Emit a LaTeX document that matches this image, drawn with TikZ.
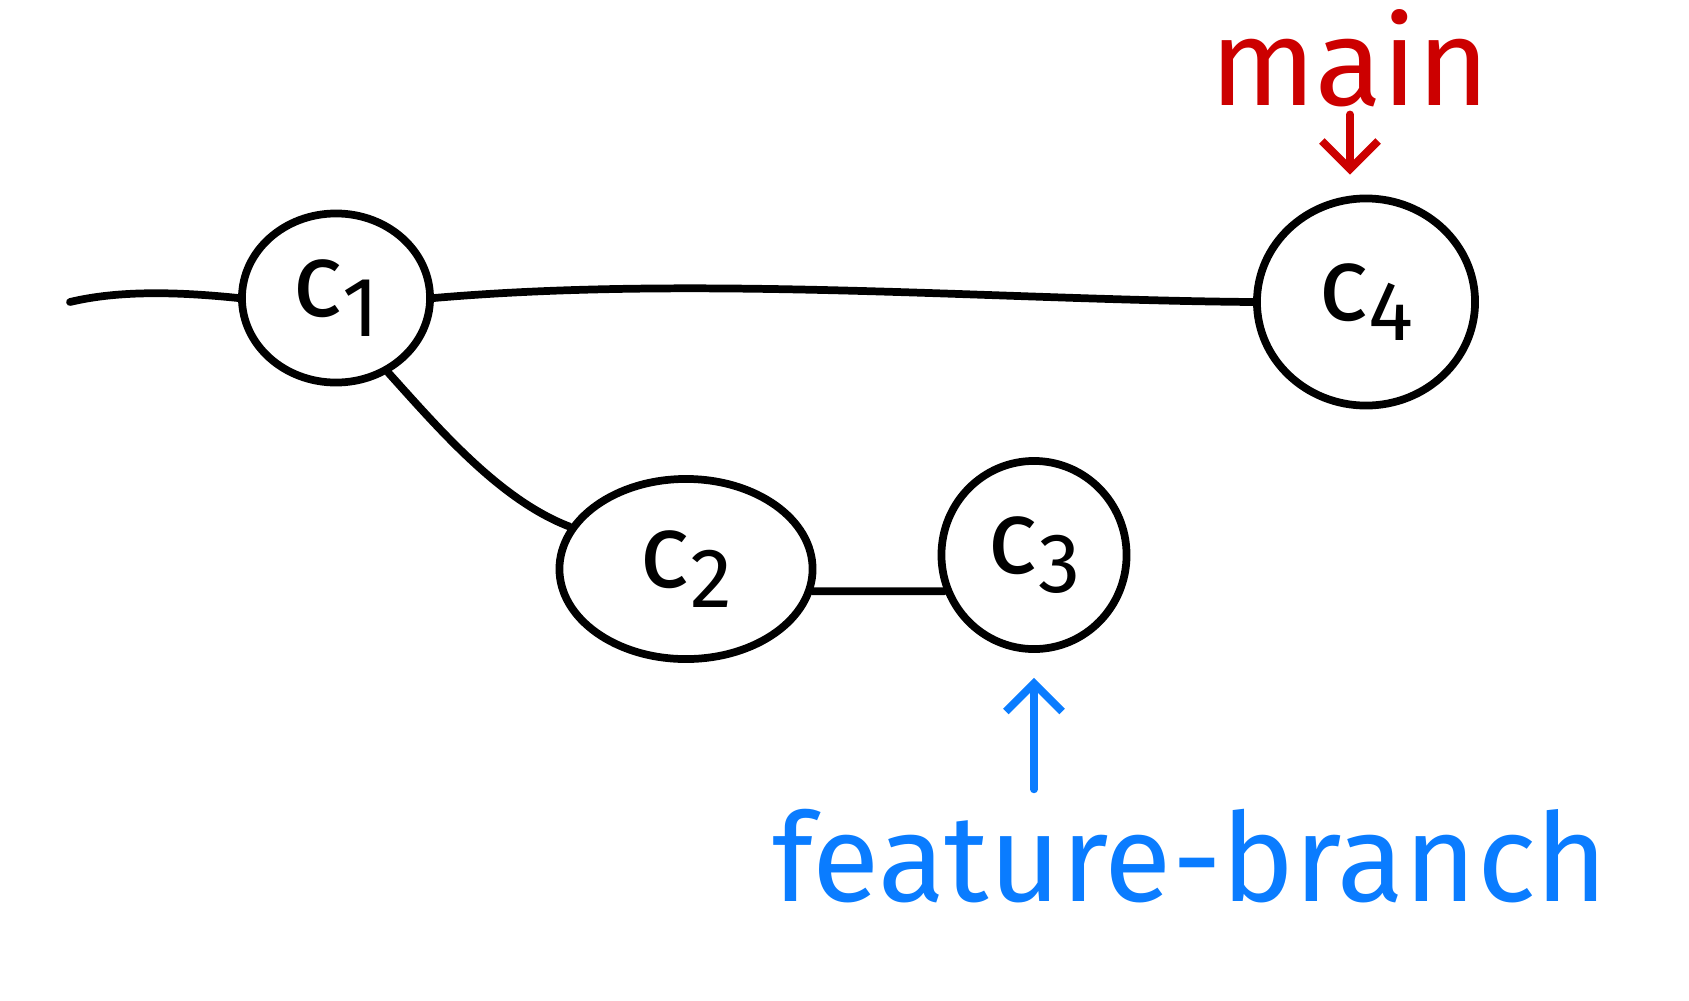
\documentclass[tikz,border=0pt]{standalone}
\usepackage{fontspec}
\setmainfont{Fira Sans}
\usetikzlibrary{shapes.geometric,arrows.meta}
\definecolor{sketchred}{HTML}{CC0000}
\definecolor{sketchblue}{HTML}{0A7CFF}
\newcommand{\cnum}[1]{c\raisebox{-0.35ex}{\fontsize{24}{26}\selectfont #1}}
\begin{document}
\begin{tikzpicture}[x=0.01cm,y=-0.01cm,
  blob/.style={draw, ellipse, line width=2.2pt, inner sep=0pt, font=\fontsize{30}{32}\selectfont},
  link/.style={line width=2.2pt, line cap=round},
  tag/.style={font=\fontsize{35}{40}\selectfont, inner sep=2pt},
]
\useasboundingbox (0,0) rectangle (1689,1000);
\node[blob, minimum width=1.88cm, minimum height=1.69cm] (c1) at (336,298) {\cnum{1}};
\node[blob, minimum width=2.18cm, minimum height=2.07cm] (c4) at (1366,302) {\cnum{4}};
\node[blob, minimum width=2.53cm, minimum height=1.80cm] (c2) at (686,569) {\cnum{2}};
\node[blob, minimum width=1.85cm, minimum height=1.88cm] (c3) at (1034,555) {\cnum{3}};
\coordinate (start) at (70,302);
\node[tag, text=sketchred] (main) at (1350,58) {main};
\node[tag, text=sketchblue] (fb) at (1190,856) {feature-branch};

\draw[link] (start) .. controls (120,290) and (180,292) .. (c1.west);
\draw[link] (c1.east) .. controls (700,275) and (1000,300) .. (c4.west);
\draw[link] (c1.-55) .. controls (440,430) and (500,500) .. (c2.160);
\draw[link] (c2.-10) -- (c3.202);
\draw[link, sketchred, -{Straight Barb[length=8pt,width=16pt]}, shorten >=0.2cm] (main.south) -- (main.south |- c4.north);
\draw[link, sketchblue, -{Straight Barb[length=8pt,width=16pt]}, shorten <=0.12cm, shorten >=0.25cm] (fb.north -| c3.south) -- (c3.south);
\end{tikzpicture}
\end{document}
